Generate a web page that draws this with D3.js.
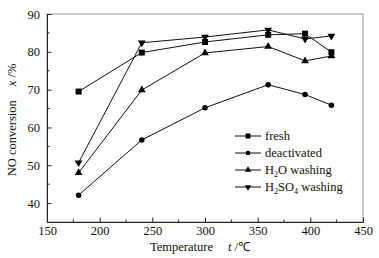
<html>
<head>
<script src="https://d3js.org/d3.v7.min.js"></script>
<style>
    body { margin: 0; background: #fff; }
    text { font-family: "Liberation Serif", "Times New Roman", serif; fill: #111; }
</style>
</head>
<body>
<svg id='chart' width=379 height=258></svg>
<script>

    let temps = [180, 240, 300, 360, 395, 420];
    let fresh = [69.5, 79.8, 82.6, 84.5, 84.8, 79.9];
    let deactivated = [42.1, 56.7, 65.2, 71.3, 68.7, 65.9];
    let h2o = [48.0, 69.9, 79.7, 81.4, 77.6, 78.9];
    let h2so4 = [50.7, 82.4, 83.9, 85.8, 83.4, 84.2];
    let xTicks = [150, 200, 250, 300, 350, 400, 450];
    let yTicks = [40, 50, 60, 70, 80, 90];

    let series = [
        { name: 'fresh', values: fresh, sym: d3.symbolSquare, size: 36 },
        { name: 'deactivated', values: deactivated, sym: d3.symbolCircle, size: 24 },
        { name: 'H2O', values: h2o, sym: d3.symbolTriangle, size: 26 },
        { name: 'H2SO4', values: h2so4, sym: d3.symbolTriangle, size: 26, flip: true }
    ];

    let svg = d3.select('#chart');
    let margin = {top: 14, right: 16, bottom: 36, left: 47},
        width = +svg.attr('width') - margin.left - margin.right,
        height = +svg.attr('height') - margin.top - margin.bottom;

    let g = svg.append('g')
        .attr('transform', 'translate(' + margin.left + ',' + margin.top + ')');

    let x = d3.scaleLinear().domain([150, 450]).range([0, width]);
    let y = d3.scaleLinear().domain([35, 90]).range([height, 0]);

    // frame
    g.append('rect')
        .attr('width', width).attr('height', height)
        .attr('fill', 'none').attr('stroke', '#999').attr('stroke-width', 1);

    // minor ticks
    g.selectAll('.xminor')
        .data(d3.range(175, 450, 50))
      .enter().append('line')
        .attr('x1', d => x(d)).attr('x2', d => x(d))
        .attr('y1', height).attr('y2', height - 2.5)
        .attr('stroke', '#222');
    g.selectAll('.yminor')
        .data(d3.range(45, 90, 10))
      .enter().append('line')
        .attr('y1', d => y(d)).attr('y2', d => y(d))
        .attr('x1', 0).attr('x2', 2.5)
        .attr('stroke', '#222');

    let xAxis = g.append('g')
        .attr('transform', 'translate(0,' + height + ')')
        .call(d3.axisBottom(x).tickValues(xTicks).tickSizeInner(-4.5).tickSizeOuter(0).tickPadding(4));
    let yAxis = g.append('g')
        .call(d3.axisLeft(y).tickValues(yTicks).tickSizeInner(-4.5).tickSizeOuter(0).tickPadding(7));

    [xAxis, yAxis].forEach(a => {
        a.select('.domain').attr('stroke', '#222');
        a.selectAll('.tick line').attr('stroke', '#222');
        a.selectAll('.tick text').attr('font-size', 12.5).attr('fill', '#111')
            .attr('font-family', '"Liberation Serif", serif');
    });

    let line = d3.line()
        .x((d, i) => x(temps[i]))
        .y(d => y(d));

    series.forEach(s => {
        g.append('path')
            .datum(s.values)
            .attr('d', line)
            .attr('fill', 'none')
            .attr('stroke', '#111')
            .attr('stroke-width', 1);
        g.selectAll(null)
            .data(s.values)
          .enter().append('path')
            .attr('d', d3.symbol().type(s.sym).size(s.size))
            .attr('transform', (d, i) => 'translate(' + x(temps[i]) + ',' + y(d) + ')' + (s.flip ? ' rotate(180)' : ''))
            .attr('fill', '#000');
    });

    // legend
    let legend = g.append('g').attr('transform', 'translate(188,122)');
    let labels = [
        ['fresh'],
        ['deactivated'],
        ['H', '2', 'O washing'],
        ['H', '2', 'SO', '4', ' washing']
    ];
    series.forEach((s, i) => {
        let row = legend.append('g').attr('transform', 'translate(0,' + (i * 17) + ')');
        row.append('line').attr('x1', 0).attr('x2', 26).attr('stroke', '#111');
        row.append('path')
            .attr('d', d3.symbol().type(s.sym).size(s.size * 0.7))
            .attr('transform', 'translate(13,0)' + (s.flip ? ' rotate(180)' : ''))
            .attr('fill', '#000');
        let t = row.append('text').attr('x', 30).attr('y', 4).attr('font-size', 12.5);
        labels[i].forEach((p, j) => {
            let sub = (labels[i].length > 1 && j % 2 === 1);
            t.append('tspan').text(p)
                .attr('font-size', sub ? 8 : 12.5)
                .attr('dy', sub ? 3 : (j > 0 ? -3 : 0));
        });
    });

    // axis titles
    svg.append('text')
        .attr('x', 150).attr('y', 251)
        .attr('font-size', 12.5)
        .text('Temperature');
    svg.append('text')
        .attr('x', 228).attr('y', 251)
        .attr('font-size', 12.5)
        .html('<tspan font-style="italic">t</tspan> /℃');

    let yl = svg.append('text')
        .attr('transform', 'translate(16,' + (margin.top + height / 2 + 2) + ') rotate(-90)')
        .attr('text-anchor', 'middle')
        .attr('font-size', 12.5);
    yl.append('tspan').text('NO conversion');
    yl.append('tspan').attr('dx', 14).attr('font-style', 'italic').text('x');
    yl.append('tspan').text(' /%');

</script>
</body>
</html>
